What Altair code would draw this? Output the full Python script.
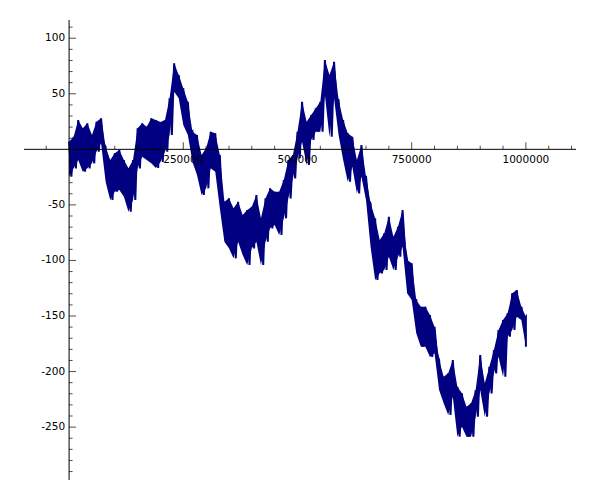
import altair as alt
import pandas as pd

# Envelope of the walk, read every 10000 steps: local high then local low
hi = [6.8, 11.3, 26.4, 18.9, 23.4, 12.9, 24.8, 27.9, 2.3, -9.6,
      -3.6, -0.6, -9.6, -17.1, -9.6, 18.9, 23.4, 20.3, 27.9, 26.4,
      24.6, 26.4, 45.9, 77.4, 66.9, 54.9, 42.8, 15.8, 12.9, -5.1,
      0.9, 15.8, 14.4, -5.1, -47.2, -44.1, -53.1, -47.2, -59.1, -54.6,
      -51.7, -41.1, -62.1, -44.1, -35.1, -38.2, -38.2, -27.6, -9.6, -5.1,
      15.8, 42.8, 24.8, 30.9, 36.9, 42.8, 80.4, 66.9, 78.8, 44.4,
      26.4, 14.4, 11.3, -9.6, 3.9, -24.7, -48.6, -62.1, -81.6, -75.6,
      -60.7, -78.7, -69.7, -54.6, -99.6, -102.6, -135.6, -141.7, -141.7, -149.1,
      -159.7, -189.6, -204.7, -201.6, -189.6, -213.7, -219.6, -231.7, -228.6, -216.6,
      -185.1, -210.6, -195.7, -180.6, -162.6, -153.6, -147.6, -129.6, -126.6, -141.7,
      -150.7]
lo = [-24.7, -17.1, -9.6, -20.2, -17.1, -12.6, -2.2, 5.4, -29.2, -45.6,
      -38.2, -36.6, -42.7, -56.2, -45.6, -17.1, -6.7, -9.6, -12.6, -16.8,
      -11.4, -2.2, 12.9, 51.8, 45.9, 21.9, 12.9, -11.2, -23.1, -41.1,
      -35.1, -17.1, -20.2, -53.1, -83.2, -89.1, -98.1, -83.2, -95.1, -104.1,
      -89.1, -83.2, -104.1, -83.2, -71.1, -68.1, -77.1, -62.1, -44.1, -26.1,
      -8.1, 6.8, -14.1, 8.4, 15.8, 15.8, 48.9, 11.3, 45.9, 12.9,
      -9.6, -29.2, -15.7, -39.6, -24.7, -45.6, -87.7, -117.6, -111.6, -108.6,
      -96.7, -108.6, -96.7, -87.7, -129.6, -135.6, -165.6, -177.7, -177.7, -186.9,
      -183.6, -216.6, -228.6, -239.1, -222.7, -258.7, -249.7, -258.7, -258.7, -240.7,
      -216.6, -240.7, -219.6, -201.6, -186.7, -204.7, -168.7, -162.6, -150.7, -153.6,
      -177.7]

x_major = [250000, 500000, 750000, 1000000]
x_labels = ["250000", "500000", "750000", "1000000"]
y_major = [100, 50, -50, -100, -150, -200, -250]
y_labels = ["100", "50", "-50", "-100", "-150", "-200", "-250"]

X_DOM = [-98700, 1109700]
Y_DOM = [-297.6, 116.4]

rows = []
k = 0
for i, (h, l) in enumerate(zip(hi, lo)):
    rows.append({"idx": k, "x": i * 10000, "y": h}); k += 1
    rows.append({"idx": k, "x": min(i * 10000 + 5000, 1000000), "y": l}); k += 1
walk = pd.DataFrame(rows)
band = pd.DataFrame({"x": [i * 10000 for i in range(len(hi))], "hi": hi, "lo": lo})

x_minor = [v for v in range(-50000, 1100001, 50000) if v not in x_major and v != 0]
y_minor = [v for v in range(-290, 111, 10) if v % 50 != 0]

xs = alt.Scale(domain=X_DOM, nice=False, zero=False)
ys = alt.Scale(domain=Y_DOM, nice=False, zero=False)
X = lambda f: alt.X(f, type="quantitative", scale=xs, axis=None)
Y = lambda f: alt.Y(f, type="quantitative", scale=ys, axis=None)

area = alt.Chart(band).mark_area(color="#000080", opacity=1, interpolate="linear").encode(
    x=X("x"), y=Y("hi"), y2="lo")
line = alt.Chart(walk).mark_line(color="#000080", strokeWidth=2).encode(
    x=X("x"), y=Y("y"), order="idx:Q")

axis_df = pd.DataFrame({"x0": [X_DOM[0]], "x1": [X_DOM[1]], "y0": [Y_DOM[0]], "y1": [Y_DOM[1]], "z": [0]})
xaxis = alt.Chart(axis_df).mark_rule(color="black", strokeWidth=1).encode(
    x=X("x0"), x2="x1", y=Y("z"))
yaxis = alt.Chart(axis_df).mark_rule(color="black", strokeWidth=1).encode(
    x=X("z"), y=Y("y0"), y2="y1")

xmaj_df = pd.DataFrame({"v": x_major, "lab": x_labels, "z": 0})
xmin_df = pd.DataFrame({"v": x_minor, "z": 0})
ymaj_df = pd.DataFrame({"v": y_major, "lab": y_labels, "z": 0})
ymin_df = pd.DataFrame({"v": y_minor, "z": 0})

xt_major = alt.Chart(xmaj_df).mark_tick(orient="vertical", size=7, thickness=1, yOffset=-3.5, color="black").encode(
    x=X("v"), y=Y("z"))
xt_minor = alt.Chart(xmin_df).mark_tick(orient="vertical", size=3.5, thickness=1, yOffset=-1.75, color="black").encode(
    x=X("v"), y=Y("z"))
yt_major = alt.Chart(ymaj_df).mark_tick(orient="horizontal", size=7, thickness=1, xOffset=3.5, color="black").encode(
    x=X("z"), y=Y("v"))
yt_minor = alt.Chart(ymin_df).mark_tick(orient="horizontal", size=3.5, thickness=1, xOffset=1.75, color="black").encode(
    x=X("z"), y=Y("v"))

xlab = alt.Chart(xmaj_df).mark_text(font="DejaVu Sans", fontSize=10.5, color="black",
                                    align="center", baseline="alphabetic", dy=14).encode(
    x=X("v"), y=Y("z"), text="lab:N")
ylab = alt.Chart(ymaj_df).mark_text(font="DejaVu Sans", fontSize=10.5, color="black",
                                    align="right", baseline="middle", dx=-4).encode(
    x=X("z"), y=Y("v"), text="lab:N")

chart = alt.layer(area, line, xaxis, yaxis, xt_major, xt_minor, yt_major, yt_minor, xlab, ylab).properties(
    width=552, height=460,
    autosize=alt.AutoSizeParams(type="none"),
    padding={"left": 16, "top": 12, "right": 0, "bottom": 0},
).configure_view(stroke=None)

chart.save("out.html", embed_options={"renderer": "svg", "actions": False})
